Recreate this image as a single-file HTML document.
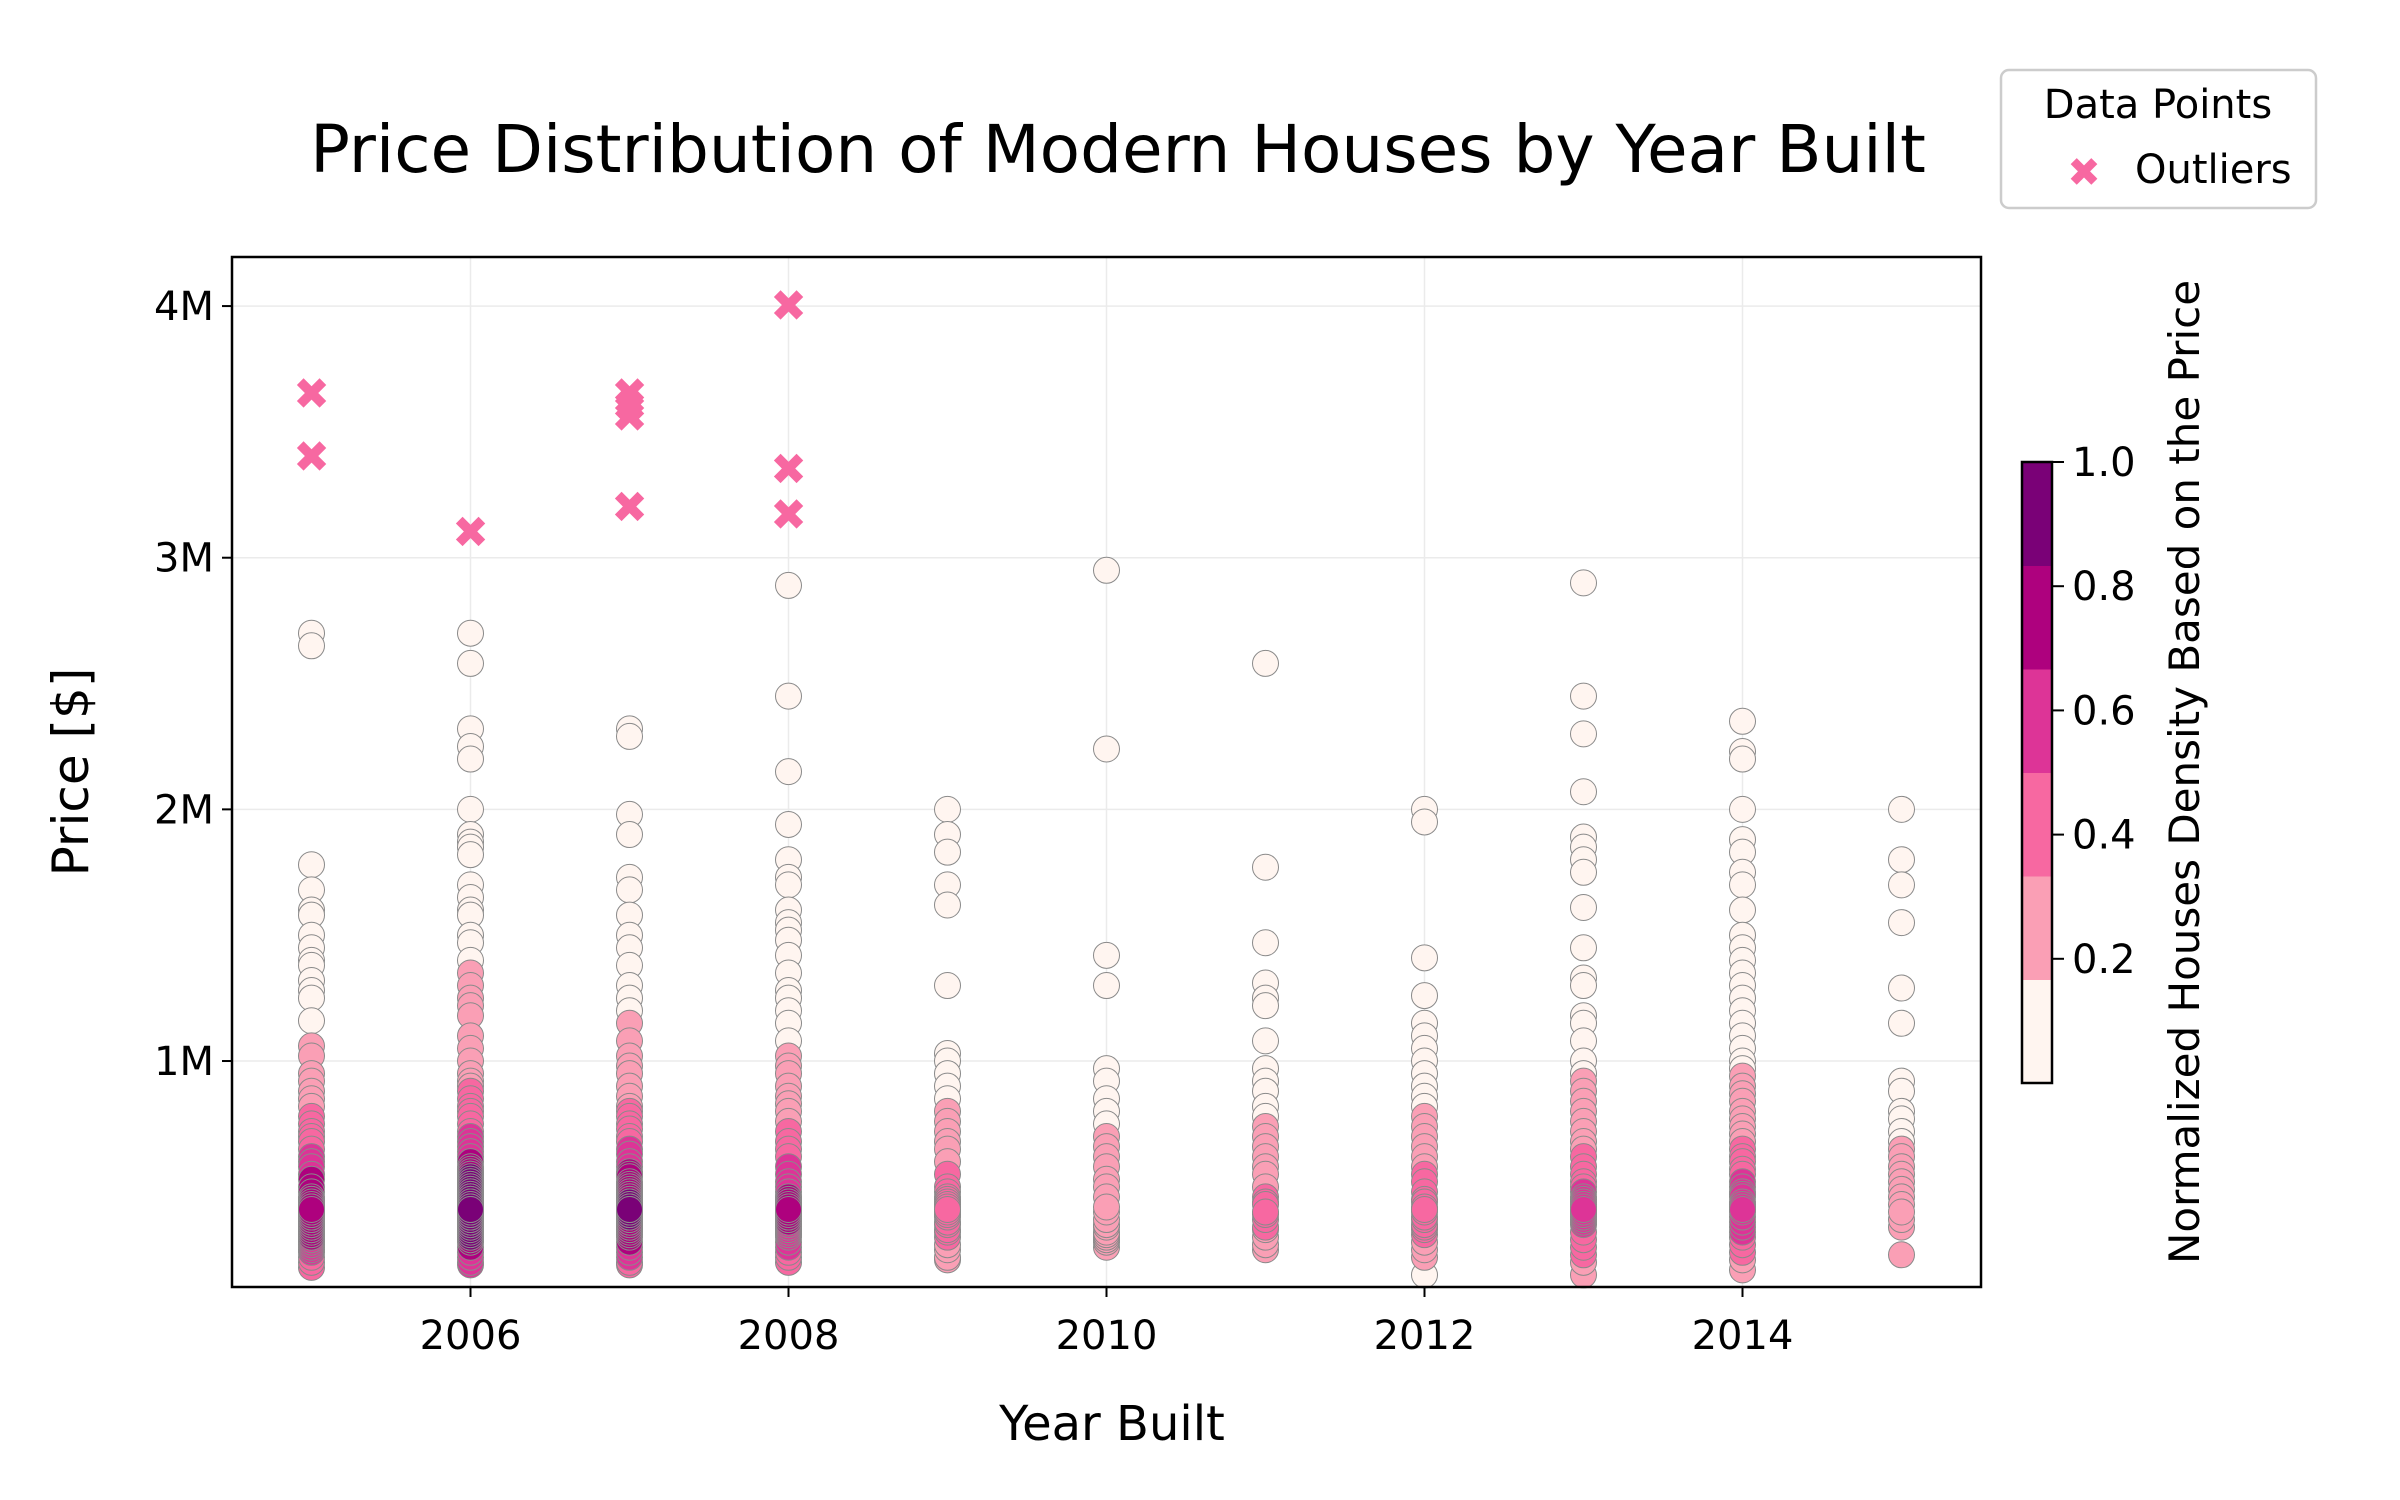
<!DOCTYPE html>
<html><head><meta charset="utf-8"><style>
html,body{margin:0;padding:0;background:#fff;}
svg{display:block;font-family:"DejaVu Sans","Liberation Sans",sans-serif;}
</style></head><body>
<svg id="chart" width="2400" height="1500" viewBox="0 0 2400 1500" xmlns="http://www.w3.org/2000/svg">
<rect width="2400" height="1500" fill="#fff"/>
<text x="1118" y="172" font-size="66" text-anchor="middle" fill="#000">Price Distribution of Modern Houses by Year Built</text>
<g id="grid"></g>
<g id="points"></g>
<g id="outliers"></g>
<rect x="232" y="257" width="1749" height="1030" fill="none" stroke="#000" stroke-width="2.5"/>
<g id="axes"></g>
<text transform="translate(88,772) rotate(-90)" font-size="50" text-anchor="middle">Price [$]</text>
<text x="1112" y="1440" font-size="48" text-anchor="middle">Year Built</text>
<g>
<rect x="2001" y="70" width="315" height="138" rx="8" fill="#fff" stroke="#ccc" stroke-width="2.5"/>
<text x="2158" y="118" font-size="40" text-anchor="middle">Data Points</text>
<text x="2084" y="186" font-size="40" fill="#f768a1" text-anchor="middle" font-weight="bold">✖</text>
<text x="2135" y="183" font-size="40">Outliers</text>
</g>
<g id="colorbar"></g>
<text transform="translate(2199,772) rotate(-90)" font-size="42" text-anchor="middle">Normalized Houses Density Based on the Price</text>
</svg>
<script>
const years = [2005,2006,2007,2008,2009,2010,2011,2012,2013,2014,2015];
const prices2005 = [2.70,2.65,1.78,1.68,1.60,1.58,1.50,1.45,1.40,1.38,1.32,1.28,1.25,1.16,1.06,1.02,0.95,0.92,0.88,0.85,0.82,0.78,0.75,0.72,0.70,0.68,0.65,0.62,0.60,0.58,0.55,0.53,0.50,0.48,0.46,0.45,0.43,0.42,0.40,0.39,0.38,0.37,0.36,0.35,0.34,0.33,0.32,0.31,0.30,0.29,0.28,0.27,0.26,0.25,0.24,0.22,0.20,0.18,0.45,0.42,0.40,0.38,0.36,0.35,0.34,0.33,0.32,0.30,0.41,0.37,0.44,0.39,0.31,0.29,0.36,0.34,0.40,0.38,0.35,0.33,0.42];
const prices2006 = [2.70,2.58,2.32,2.25,2.20,2.00,1.90,1.87,1.85,1.82,1.70,1.65,1.60,1.58,1.50,1.47,1.40,1.35,1.30,1.25,1.22,1.18,1.10,1.05,1.00,0.95,0.92,0.90,0.88,0.85,0.82,0.80,0.78,0.75,0.72,0.70,0.68,0.66,0.64,0.62,0.60,0.58,0.57,0.56,0.55,0.54,0.53,0.52,0.51,0.50,0.49,0.48,0.47,0.46,0.45,0.44,0.43,0.42,0.41,0.40,0.39,0.38,0.37,0.36,0.35,0.34,0.33,0.32,0.31,0.30,0.29,0.28,0.26,0.24,0.22,0.20,0.19,0.55,0.53,0.51,0.50,0.49,0.48,0.47,0.46,0.45,0.44,0.43,0.42,0.41,0.40,0.39,0.38,0.37,0.36,0.35,0.34,0.52,0.48,0.46,0.44,0.42,0.40,0.38,0.36,0.45,0.41];
const prices2007 = [2.32,2.29,1.98,1.90,1.73,1.68,1.58,1.50,1.45,1.38,1.30,1.25,1.20,1.15,1.08,1.02,0.98,0.95,0.90,0.86,0.82,0.80,0.78,0.75,0.73,0.70,0.68,0.65,0.63,0.60,0.58,0.56,0.55,0.54,0.52,0.51,0.50,0.49,0.48,0.47,0.46,0.45,0.44,0.43,0.42,0.41,0.40,0.39,0.38,0.37,0.36,0.35,0.34,0.33,0.32,0.31,0.30,0.28,0.26,0.24,0.22,0.20,0.19,0.50,0.48,0.46,0.45,0.44,0.43,0.42,0.41,0.40,0.39,0.38,0.37,0.36,0.35,0.34,0.33,0.47,0.44,0.42,0.40,0.38,0.36,0.41,0.39];
const prices2008 = [2.89,2.45,2.15,1.94,1.80,1.73,1.70,1.60,1.55,1.52,1.48,1.42,1.35,1.28,1.25,1.20,1.15,1.08,1.02,0.98,0.95,0.90,0.86,0.83,0.80,0.76,0.72,0.68,0.65,0.62,0.58,0.55,0.52,0.50,0.48,0.46,0.45,0.44,0.42,0.41,0.40,0.38,0.37,0.36,0.34,0.33,0.32,0.30,0.28,0.26,0.24,0.22,0.20,0.46,0.44,0.42,0.40,0.38,0.36,0.35,0.34,0.33,0.32,0.31,0.43,0.39,0.37,0.35];
const prices2009 = [2.00,1.90,1.83,1.70,1.62,1.30,1.03,1.00,0.95,0.90,0.85,0.80,0.76,0.72,0.68,0.65,0.60,0.55,0.50,0.48,0.45,0.42,0.40,0.38,0.35,0.32,0.30,0.27,0.25,0.22,0.21,0.46,0.43,0.39,0.36,0.33,0.41,0.44];
const prices2010 = [2.95,2.24,1.42,1.30,0.97,0.92,0.85,0.80,0.75,0.70,0.66,0.62,0.58,0.53,0.50,0.46,0.42,0.40,0.37,0.35,0.32,0.30,0.28,0.26,0.34,0.31,0.29];
const prices2011 = [2.58,1.77,1.47,1.31,1.25,1.22,1.08,0.97,0.92,0.88,0.82,0.78,0.74,0.70,0.66,0.62,0.58,0.55,0.50,0.46,0.43,0.40,0.37,0.34,0.30,0.27,0.25,0.44,0.39,0.33];
const prices2012 = [2.00,1.95,1.41,1.26,1.15,1.10,1.05,1.00,0.95,0.90,0.86,0.82,0.78,0.74,0.70,0.66,0.62,0.58,0.55,0.52,0.48,0.45,0.42,0.40,0.37,0.34,0.31,0.28,0.25,0.22,0.15,0.44,0.41,0.38,0.35,0.33];
const prices2013 = [2.90,2.45,2.30,2.07,1.89,1.85,1.80,1.75,1.61,1.45,1.33,1.30,1.18,1.15,1.08,1.00,0.95,0.92,0.88,0.84,0.80,0.76,0.72,0.68,0.65,0.62,0.58,0.55,0.52,0.50,0.48,0.45,0.42,0.40,0.38,0.35,0.32,0.29,0.26,0.23,0.20,0.15,0.46,0.43,0.41,0.39,0.37,0.36,0.44,0.40];
const prices2014 = [2.35,2.23,2.20,2.00,1.88,1.83,1.75,1.70,1.60,1.50,1.45,1.40,1.35,1.30,1.25,1.20,1.15,1.10,1.05,1.00,0.97,0.94,0.90,0.87,0.84,0.80,0.77,0.74,0.71,0.68,0.65,0.62,0.60,0.57,0.55,0.52,0.50,0.48,0.46,0.44,0.42,0.40,0.38,0.36,0.34,0.32,0.30,0.27,0.24,0.21,0.17,0.47,0.43,0.41];
const prices2015 = [2.00,1.80,1.70,1.55,1.29,1.15,0.92,0.88,0.80,0.77,0.72,0.68,0.65,0.62,0.58,0.55,0.52,0.49,0.46,0.43,0.40,0.37,0.34,0.23];
const outlierYears = [2005,2005,2006,2007,2007,2007,2007,2008,2008,2008];
const outlierPrices = [3.65,3.40,3.10,3.65,3.60,3.56,3.20,4.00,3.35,3.17];
const xTicks = [2006,2008,2010,2012,2014];
const yTicks = [1,2,3,4];
const yTickLabels = ["1M","2M","3M","4M"];
const cbTicks = [0.2,0.4,0.6,0.8,1.0];
const cbColors = ["#fff5f0","#fa9fb5","#f768a1","#dd3497","#ae017e","#7a0177"];

const priceSets = [prices2005,prices2006,prices2007,prices2008,prices2009,prices2010,prices2011,prices2012,prices2013,prices2014,prices2015];
const NS = "http://www.w3.org/2000/svg";
const X0 = 232, X1 = 1981, Y0 = 257, Y1 = 1287;
const xMin = 2004.5, xMax = 2015.5, yMin = 0.102, yMax = 4.195;
function xs(v){ return X0 + (v - xMin) / (xMax - xMin) * (X1 - X0); }
function ys(v){ return Y1 - (v - yMin) / (yMax - yMin) * (Y1 - Y0); }
function mk(tag, attrs, parent){ const e = document.createElementNS(NS, tag); for (const k in attrs) e.setAttribute(k, attrs[k]); parent.appendChild(e); return e; }

const grid = document.getElementById('grid');
const axes = document.getElementById('axes');
xTicks.forEach(t => {
  const g = mk('line', {x1: xs(t), x2: xs(t), y1: Y0, y2: Y1, stroke: '#ebebeb', 'stroke-width': 1.5}, grid);
  
  
  const tk = mk('line', {x1: xs(t), x2: xs(t), y1: Y1, y2: Y1 + 10, stroke: '#000', 'stroke-width': 2}, axes);
  
  
  const lb = mk('text', {x: xs(t), y: Y1 + 62, 'font-size': 40, 'text-anchor': 'middle'}, axes);
  lb.textContent = t;
  
  
});
yTicks.forEach((t, i) => {
  const g = mk('line', {x1: X0, x2: X1, y1: ys(t), y2: ys(t), stroke: '#ebebeb', 'stroke-width': 1.5}, grid);
  
  
  const tk = mk('line', {x1: X0 - 10, x2: X0, y1: ys(t), y2: ys(t), stroke: '#000', 'stroke-width': 2}, axes);
  
  
  const lb = mk('text', {x: X0 - 18, y: ys(t) + 14, 'font-size': 40, 'text-anchor': 'end'}, axes);
  lb.textContent = yTickLabels[i];
  
  
});

// density: global price KDE scaled by (relative) number of houses built that year
const allPrices = [].concat(...priceSets);
function kde(p){ let d = 0; allPrices.forEach(q => { const z = (p - q) / 0.15; d += Math.exp(-0.5 * z * z); }); return d; }
const maxCount = Math.max(...priceSets.map(s => s.length));
const pts = [];
priceSets.forEach((set, yi) => {
  const w = Math.pow(set.length / maxCount, 0.8);
  set.forEach(p => pts.push({year: years[yi], price: p, d: kde(p) * w}));
});
const maxD = Math.max(...pts.map(p => p.d));
pts.forEach(p => p.n = p.d / maxD);
pts.sort((a, b) => a.n - b.n);
const pg = document.getElementById('points');
pts.forEach(p => {
  const bin = Math.min(5, Math.floor(p.n * 6));
  const c = mk('circle', {cx: xs(p.year), cy: ys(p.price), r: 13, fill: cbColors[bin], stroke: '#8a8a8a', 'stroke-width': 1}, pg);
  
  
});
const og = document.getElementById('outliers');
outlierPrices.forEach((v, i) => {
  const t = mk('text', {x: xs(outlierYears[i]), y: ys(v) + 15, 'font-size': 44, 'font-weight': 'bold', fill: '#f768a1', 'text-anchor': 'middle'}, og);
  t.textContent = '✖';
  
  
});

// colorbar
const cb = document.getElementById('colorbar');
const CX = 2022, CW = 30, CT = 462, CB = 1083;
function cs(v){ return CB - v * (CB - CT); }
cbColors.forEach((c, i) => {
  const r = mk('rect', {x: CX, y: cs((i + 1) / 6), width: CW, height: (CB - CT) / 6 + 0.5, fill: c}, cb);
  
  
});
const fr = mk('rect', {x: CX, y: CT, width: CW, height: CB - CT, fill: 'none', stroke: '#000', 'stroke-width': 2.5}, cb);


cbTicks.forEach(t => {
  const tk = mk('line', {x1: CX + CW, x2: CX + CW + 12, y1: cs(t), y2: cs(t), stroke: '#000', 'stroke-width': 2}, cb);
  
  
  const lb = mk('text', {x: CX + CW + 20, y: cs(t) + 14, 'font-size': 40}, cb);
  lb.textContent = t.toFixed(1);
  
  
});
</script>
</body></html>
